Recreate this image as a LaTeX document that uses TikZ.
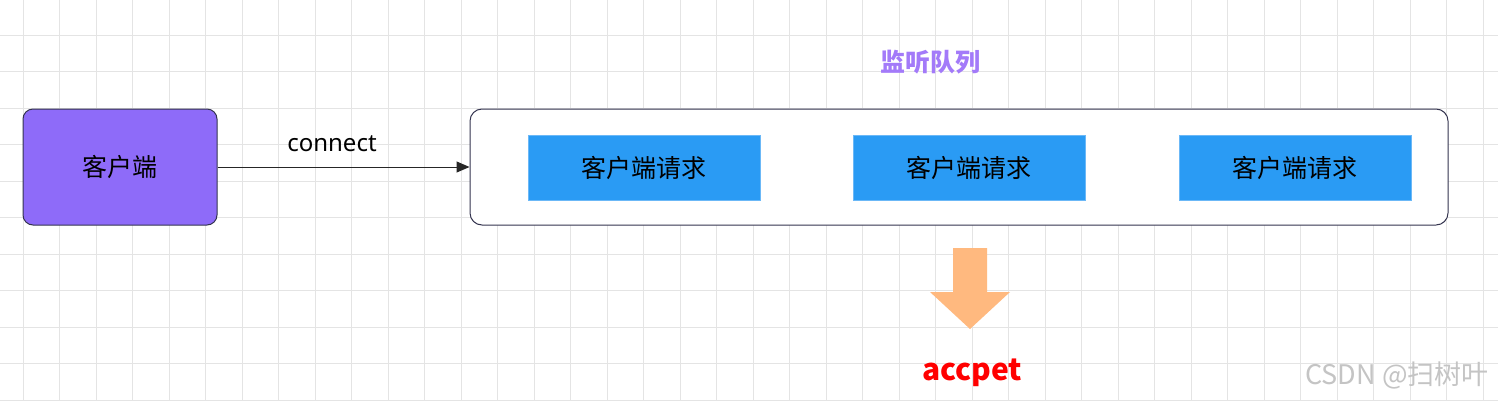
\documentclass[tikz,border=0pt]{standalone}
\usepackage{fontspec}
\newfontfamily\cjk{Noto Sans CJK SC}
\newfontfamily\lat{Noto Sans}
\usetikzlibrary{arrows.meta}
\definecolor{gridc}{HTML}{E4E4E4}
\definecolor{clientfill}{HTML}{8E6BF9}
\definecolor{titlec}{HTML}{A37AF9}
\definecolor{reqfill}{HTML}{2A9BF4}
\definecolor{reqline}{HTML}{6BB8F7}
\definecolor{borderc}{HTML}{34344F}
\definecolor{orangec}{HTML}{FFB97F}
\definecolor{redc}{HTML}{FF0000}
\definecolor{wmc}{HTML}{C4C4C4}
\tikzset{
  clientbox/.style={draw=borderc, line width=1pt, fill=clientfill, rounded corners=10pt,
    minimum width=194pt, minimum height=116pt, inner sep=0pt,
    font=\cjk\fontsize{25}{30}\selectfont},
  queuebox/.style={draw=borderc, line width=1pt, fill=white, rounded corners=12pt,
    minimum width=978pt, minimum height=116pt, inner sep=0pt},
  reqbox/.style={draw=reqline, line width=0.6pt, fill=reqfill,
    minimum width=232pt, minimum height=65pt, inner sep=0pt,
    font=\cjk\fontsize{25}{30}\selectfont},
  lbl/.style={inner sep=0pt},
  gridline/.style={draw=gridc, line width=1pt},
  conn/.style={draw=black!85, line width=1pt, -{Triangle[length=13pt,width=11pt]}}
}
\begin{document}
\begin{tikzpicture}[x=1pt,y=-1pt]
\useasboundingbox (0,0) rectangle (1498,400);
\fill[white] (0,0) rectangle (1498,400);
\foreach \i in {0,...,40} \draw[gridline] ({23+36.5*\i},0) -- ({23+36.5*\i},400);
\foreach \j in {0,...,10} \draw[gridline] (0,{35+36.5*\j}) -- (1498,{35+36.5*\j});

\node[clientbox] (client) at (120,167) {客户端};
\node[queuebox] (queue) at (959,167) {};
\node[reqbox] (r1) at (644,168) {客户端请求};
\node[reqbox] (r2) at (969,168) {客户端请求};
\node[reqbox] (r3) at (1295,168) {客户端请求};
\node[lbl, text=titlec, font=\cjk\bfseries\fontsize{25}{30}\selectfont] (title) at (930,62) {监听队列};

\draw[conn] (client.east) -- (queue.west);
\node[lbl, font=\lat\fontsize{24}{28}\selectfont] (connlbl) at (332,144) {connect};

\fill[orangec] (953,248) -- (987,248) -- (987,292) -- (1010,292) -- (970,329) -- (930,292) -- (953,292) -- cycle;
\node[lbl, text=redc, font=\cjk\bfseries\fontsize{30}{34}\selectfont] (acc) at (972,373) {accpet};

\node[lbl, text=wmc, font=\cjk\fontsize{27}{32}\selectfont] (wm) at (1397,375) {CSDN @扫树叶};
\end{tikzpicture}
\end{document}
